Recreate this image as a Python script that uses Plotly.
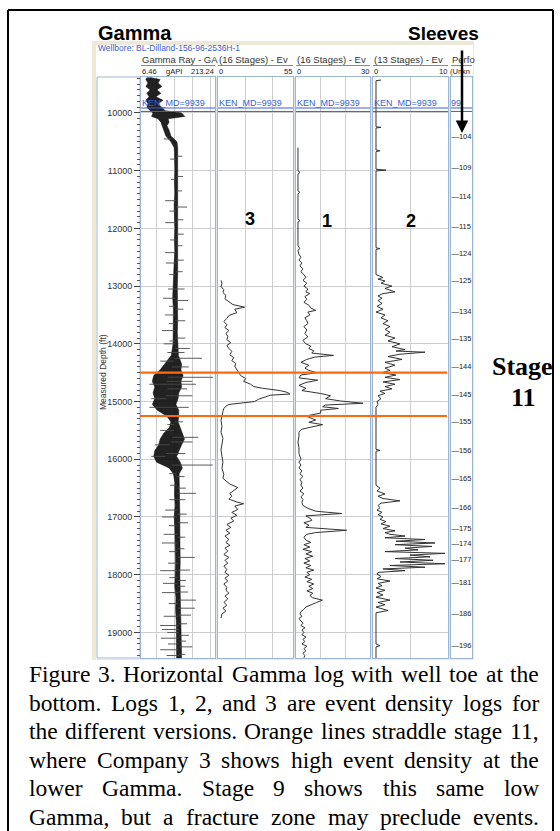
import numpy as np
import plotly.graph_objects as go

W, H = 560, 831

# ---------------- data ----------------
depth_range = [19443, 9377]          # reversed (depth increases downward)
depth_major = 1000
depth_minor = 100
gamma_range = [6.46, 213.24]
ev3_range = [0, 55]
ev1_range = [0, 30]
ev2_range = [0, 10]
sleeve_range = [0, 10]

gamma_grid = [50, 100, 150, 200]
ev3_grid = [20, 40]
ev1_grid = [10, 20]
ev2_grid = [5]

stage_top = 14500
stage_bottom = 15250
ken_md = 9939

gamma_env_depth = [9385, 9420, 9480, 9540, 9600, 9660, 9720, 9780, 9840, 9900,
                   9960, 10000, 10060, 10100, 10160, 10220, 10300, 10400, 10500, 10600,
                   10700, 10800, 10900, 11000, 11200, 11400, 11600, 11800, 12000, 12200,
                   12400, 12600, 12800, 13000, 13200, 13400, 13600, 13800, 14000, 14200,
                   14350, 14450, 14550, 14650, 14750, 14850, 14950, 15050, 15150, 15250,
                   15350, 15450, 15550, 15650, 15750, 15850, 15950, 16050, 16150, 16250,
                   16400, 16600, 16800, 17000, 17200, 17400, 17600, 17800, 18000, 18200,
                   18400, 18600, 18800, 19000, 19200, 19443]
gamma_env_min = [23, 20, 26, 20, 32, 23, 29, 20, 26, 23,
                 32, 40, 36, 54, 62, 65, 70, 76, 90, 99,
                 100, 101, 100, 101, 100, 101, 99, 101, 101, 100,
                 101, 99, 98, 96, 95, 97, 96, 95, 96, 91,
                 72, 60, 42, 38, 45, 40, 45, 38, 52, 78,
                 90, 86, 70, 60, 56, 45, 42, 50, 85, 97,
                 101, 100, 102, 99, 101, 102, 101, 103, 102, 101,
                 104, 103, 105, 105, 104, 106]
gamma_env_max = [32, 60, 54, 65, 51, 62, 48, 68, 54, 65,
                 74, 120, 129, 82, 85, 79, 85, 90, 107, 109,
                 110, 110, 111, 111, 110, 111, 110, 110, 111, 110,
                 110, 109, 109, 108, 109, 108, 109, 108, 109, 111,
                 120, 118, 124, 118, 120, 112, 110, 104, 112, 112,
                 110, 114, 122, 128, 120, 112, 106, 116, 122, 113,
                 113, 115, 114, 115, 115, 114, 115, 116, 115, 116,
                 117, 117, 118, 119, 119, 120]

gamma_spike_depth = [11630, 12100, 13250, 13900, 14080, 14250, 14580, 14700, 14900, 15100,
                     15620, 16100, 16500, 16590, 17100, 17700, 17920, 18300, 18440, 18580,
                     18700, 19050, 19250,
                     10750, 11100, 11350, 11850, 12300, 12550, 12750, 13050, 13400, 13600,
                     14150, 14400, 14650, 14780, 15350, 15700, 15900, 16300, 16700, 16950,
                     17350, 17550, 18100, 18200, 18850, 19150, 19380,
                     10450, 11520, 11900, 12420, 12600, 13210, 13500, 13770, 14000, 14300,
                     15500, 16880, 17000, 17300, 17450, 17930, 18150, 18310, 18720, 18880,
                     18950, 19100, 19300,
                     10800, 11150, 11700, 12200, 12800, 13050, 13350, 13650, 13950, 14150,
                     14500, 14700, 14950, 15100, 15400, 15750, 15950, 16250, 16450, 16700,
                     17150, 17600, 17800, 18050, 18500, 19000, 19200, 19400]
gamma_spike_val = [135, 126, 138, 130, 143, 177, 208, 160, 150, 140,
                   166, 207, 132, 160, 138, 157, 143, 138, 160, 157,
                   146, 140, 150,
                   122, 124, 121, 125, 122, 126, 123, 128, 125, 130,
                   128, 140, 150, 135, 124, 150, 130, 128, 130, 134,
                   130, 128, 132, 130, 135, 132, 130,
                   70, 74, 74, 74, 76, 68, 74, 65, 70, 60,
                   60, 74, 65, 70, 65, 60, 68, 65, 70, 60,
                   65, 62, 60,
                   88, 90, 86, 88, 86, 82, 85, 84, 86, 80,
                   40, 30, 35, 30, 80, 45, 35, 85, 88, 86,
                   84, 85, 82, 86, 84, 80, 82, 78]

ev3_depth = [12900, 12950, 13010, 13060, 13110, 13160, 13220, 13270, 13320, 13365,
             13400, 13460, 13510, 13560, 13610, 13670, 13720, 13770, 13820, 13870,
             13930, 13980, 14030, 14080, 14130, 14190, 14240, 14290, 14340, 14390,
             14440, 14500, 14550, 14600, 14650, 14700, 14740, 14770, 14810, 14840,
             14870, 14890, 14930, 14960, 15000, 15030, 15050, 15080, 15120, 15170,
             15240, 15330, 15430, 15530, 15640, 15740, 15840, 15950, 16050, 16160,
             16260, 16330, 16380, 16430, 16490, 16540, 16590, 16640, 16690, 16740,
             16770, 16810, 16870, 16920, 16970, 17020, 17070, 17130, 17180, 17230,
             17280, 17330, 17390, 17440, 17490, 17540, 17590, 17650, 17700, 17750,
             17800, 17850, 17910, 17960, 18010, 18060, 18110, 18160, 18220, 18270,
             18320, 18370, 18420, 18480, 18530, 18580, 18630, 18680, 18750]
ev3_val = [2.2, 2.9, 2.2, 4.3, 3.6, 5.8, 5.1, 8.0, 10.9, 19.5,
           12.3, 13.8, 8.0, 6.5, 4.3, 6.5, 5.1, 8.0, 5.8, 7.2,
           6.5, 9.4, 6.5, 8.0, 10.1, 8.7, 11.6, 10.1, 13.0, 12.3,
           13.8, 15.2, 16.6, 20.3, 18.8, 23.9, 26.1, 32.6, 45.6, 50.7,
           52.8, 38.4, 32.6, 29.7, 26.8, 16.6, 8.0, 5.8, 4.3, 3.6,
           2.9, 2.2, 2.9, 2.2, 3.6, 2.9, 2.2, 2.9, 3.6, 2.9,
           4.3, 3.6, 5.8, 8.7, 14.5, 11.6, 8.7, 10.1, 8.0, 13.8,
           18.8, 12.3, 14.5, 10.1, 13.8, 9.4, 11.6, 6.5, 9.4, 5.8,
           8.7, 5.1, 8.0, 5.8, 8.7, 5.1, 7.2, 4.3, 8.0, 5.1,
           7.2, 4.3, 6.5, 5.1, 8.0, 5.1, 7.2, 4.3, 6.5, 5.8,
           8.0, 5.1, 7.2, 4.3, 6.5, 3.6, 5.8, 2.9, 2.2]

ev1_depth = [10600, 11000, 11030, 11060, 11350, 11375, 11400, 11840, 11865, 11890,
             12300, 12350, 12380, 12450, 12500, 12550, 12600, 12650, 12700, 12750,
             12800, 12850, 12900, 12950, 13000, 13050, 13100, 13130, 13180, 13230,
             13280, 13330, 13380, 13420, 13450, 13500, 13550, 13600, 13650, 13700,
             13760, 13820, 13880, 13940, 14000, 14040, 14080, 14120, 14160, 14200,
             14230, 14270, 14320, 14370, 14420, 14460, 14500, 14540, 14590, 14630,
             14670, 14720, 14770, 14810, 14860, 14900, 14950, 14990, 15030, 15060,
             15090, 15120, 15150, 15200, 15250, 15285, 15320, 15360, 15400, 15440,
             15480, 15530, 15600, 15700, 15800, 15900, 16000, 16050, 16100, 16150,
             16200, 16250, 16300, 16350, 16400, 16450, 16500, 16550, 16600, 16650,
             16700, 16750, 16800, 16850, 16900, 16940, 16980, 17030, 17060, 17100,
             17140, 17180, 17230, 17270, 17300, 17350, 17400, 17440, 17480, 17520,
             17560, 17600, 17640, 17680, 17720, 17760, 17800, 17840, 17880, 17920,
             17960, 18000, 18040, 18080, 18120, 18160, 18200, 18240, 18280, 18320,
             18360, 18400, 18440, 18480, 18520, 18560, 18600, 18640, 18680, 18720,
             18760, 18800, 18840, 18880, 18920, 18960, 19000, 19040, 19080, 19120,
             19160, 19200, 19240, 19280, 19320, 19360, 19400, 19440]
ev1_val = [0.8, 0.8, 1.6, 0.8, 0.8, 1.6, 0.8, 0.8, 1.6, 0.8,
           0.8, 1.6, 0.8, 1.2, 2.0, 1.2, 2.4, 1.6, 2.8, 2.0,
           3.2, 4.0, 2.8, 4.4, 3.2, 4.8, 4.0, 5.6, 3.6, 4.4,
           3.2, 5.2, 6.0, 8.0, 4.8, 5.6, 3.6, 4.4, 4.8, 3.2,
           4.4, 3.6, 4.8, 2.8, 4.0, 6.0, 5.2, 7.2, 6.4, 15.2,
           7.6, 4.4, 2.0, 5.2, 3.6, 5.2, 8.4, 2.0, 1.2, 8.8,
           4.0, 1.2, 4.0, 2.4, 10.0, 14.0, 12.0, 18.0, 27.2, 12.0,
           10.8, 17.2, 10.0, 10.0, 4.0, 6.0, 8.0, 5.2, 10.8, 6.4,
           2.4, 1.2, 1.2, 0.8, 1.2, 1.2, 2.0, 1.2, 2.0, 1.2,
           2.4, 1.6, 2.8, 1.6, 2.4, 2.0, 2.8, 1.6, 3.2, 2.0,
           2.8, 2.4, 2.8, 4.8, 8.0, 18.5, 4.0, 6.0, 6.4, 3.2,
           5.2, 4.0, 20.5, 8.0, 4.4, 3.2, 4.0, 6.0, 3.2, 5.6,
           2.8, 6.4, 4.0, 6.8, 3.6, 5.6, 3.2, 6.0, 4.0, 7.2,
           4.4, 5.6, 3.6, 6.4, 4.4, 7.2, 5.2, 6.8, 4.4, 6.8,
           5.6, 6.8, 10.7, 8.4, 6.0, 4.0, 3.2, 2.0, 1.6, 2.4,
           1.2, 2.0, 2.8, 2.0, 3.6, 2.4, 3.2, 2.4, 4.0, 2.8,
           3.6, 2.4, 4.4, 3.2, 4.0, 2.8, 3.6, 3.2]

ev2_depth = [9430, 9440, 10240, 10250, 10260, 10640, 10655, 10670, 10975, 10990,
             11005, 12335, 12350, 12365, 12800, 12850, 12880, 12910, 12950, 13000,
             13040, 13100, 13130, 13170, 13210, 13250, 13300, 13350, 13400, 13450,
             13500, 13550, 13600, 13650, 13700, 13750, 13800, 13850, 13900, 13950,
             14000, 14050, 14100, 14125, 14145, 14180, 14220, 14270, 14320, 14370,
             14420, 14460, 14500, 14540, 14580, 14620, 14660, 14700, 14740, 14780,
             14820, 14860, 14900, 14950, 15000, 15050, 15100, 15830, 15845, 15860,
             16450, 16500, 16550, 16600, 16640, 16680, 16720, 16760, 16800, 16840,
             16880, 16920, 16960, 17000, 17040, 17080, 17120, 17160, 17200, 17240,
             17270, 17300, 17330, 17360, 17390, 17420, 17450, 17480, 17510, 17540,
             17570, 17600, 17630, 17660, 17690, 17720, 17750, 17780, 17810, 17840,
             17870, 17900, 17930, 17960, 17990, 18030, 18070, 18110, 18150, 18190,
             18230, 18270, 18310, 18350, 18390, 18440, 18480, 18520, 18560, 18620,
             18660, 19200, 19230, 19250, 19443]
ev2_val = [1.07, 0.4, 0.4, 1.07, 0.4, 0.4, 0.93, 0.4, 0.4, 1.73,
           0.4, 0.4, 0.93, 0.4, 0.4, 1.33, 0.67, 1.6, 1.07, 2.53,
           1.6, 2.93, 1.33, 0.67, 1.2, 0.67, 1.2, 0.53, 1.33, 0.4,
           1.6, 1.07, 2.0, 1.33, 2.27, 1.6, 2.27, 1.6, 2.93, 2.0,
           3.6, 2.53, 4.27, 3.07, 6.93, 3.6, 2.0, 3.87, 1.6, 2.93,
           1.6, 2.27, 1.2, 3.07, 1.6, 3.6, 1.33, 2.93, 1.6, 2.53,
           0.93, 1.6, 0.67, 1.07, 0.53, 0.67, 0.4, 0.4, 0.93, 0.4,
           0.4, 0.93, 0.53, 1.6, 0.67, 1.33, 3.6, 1.07, 0.67, 0.93,
           0.53, 1.2, 0.67, 1.33, 0.93, 1.73, 1.07, 2.27, 1.33, 2.93,
           1.6, 2.27, 4.27, 1.6, 6.93, 3.07, 8.27, 2.93, 7.87, 4.27,
           6.0, 1.6, 9.6, 4.93, 7.6, 2.93, 8.0, 3.6, 9.6, 2.27,
           6.93, 1.33, 4.27, 0.67, 0.53, 1.07, 0.53, 2.27, 0.67, 1.2,
           0.4, 1.6, 0.53, 1.33, 0.4, 2.27, 0.67, 1.6, 0.4, 2.0,
           0.4, 0.4, 0.93, 0.4, 0.4]

sleeve_depth = [10424, 10960, 11450, 11986, 12453, 12920, 13451, 13924, 14408, 14893,
                15363, 15865, 16350, 16844, 17208, 17467, 17744, 18142, 18678, 19232]
sleeve_label = ["104", "109", "114", "115", "124", "125", "134", "135", "144", "145",
                "155", "156", "165", "166", "175", "174", "177", "181", "186", "196"]

caption_lines = [
    "Figure 3. Horizontal Gamma log with well toe at the",
    "bottom. Logs 1, 2, and 3 are event density logs for",
    "the different versions. Orange lines straddle stage 11,",
    "where Company 3 shows high event density at the",
    "lower Gamma. Stage 9 shows this same low",
    "Gamma, but a fracture zone may preclude events.",
]

# ---------------- helpers ----------------
def px(x):
    return x / W

def py(y):
    return 1 - y / H

SANS = "Liberation Sans"
SERIF = "Liberation Serif"
BLUE = "#3A62D0"
TRACK_LINE = "#9DB6D6"
GRID = "#CDCDCD"
CURVE = "#333333"

fig = go.Figure()

tracks = [
    ("", gamma_range, 141, 215, gamma_grid),
    ("2", ev3_range, 218, 293, ev3_grid),
    ("3", ev1_range, 296, 370, ev1_grid),
    ("4", ev2_range, 373, 448, ev2_grid),
    ("5", sleeve_range, 451, 472, []),
]
TOP, BOT = 77, 658

layout_axes = {}
for s, rng, l, r, grid in tracks:
    layout_axes["xaxis" + s] = dict(
        domain=[px(l), px(r)], range=rng, anchor="y" + s,
        showgrid=True, tickvals=grid, gridcolor=GRID, gridwidth=1,
        showticklabels=False, ticks="", zeroline=False,
        showline=True, mirror=True, linecolor=TRACK_LINE, linewidth=1,
        fixedrange=True,
    )
    ya = dict(
        domain=[py(BOT), py(TOP)], range=depth_range, anchor="x" + s,
        showgrid=(s != "5"), dtick=depth_major, tick0=0, gridcolor=GRID, gridwidth=1,
        zeroline=False, showline=True, mirror=True, linecolor=TRACK_LINE, linewidth=1,
        fixedrange=True,
    )
    if s == "":
        ya.update(
            showticklabels=True, ticks="outside", ticklen=6, tickcolor="#444", tickwidth=1,
            tickfont=dict(family=SANS, size=9, color="#333"), tickformat="d",
            minor=dict(dtick=depth_minor, tick0=0, ticks="outside", ticklen=3,
                       tickcolor="#555", tickwidth=1, showgrid=False),
        )
    else:
        ya.update(showticklabels=False, ticks="", matches="y")
    layout_axes["yaxis" + s] = ya

# gamma band (envelope) + spikes
band_x = gamma_env_min + gamma_env_max[::-1]
band_y = gamma_env_depth + gamma_env_depth[::-1]
fig.add_trace(go.Scatter(x=band_x, y=band_y, xaxis="x", yaxis="y", mode="lines",
                         fill="toself", fillcolor="rgba(15,15,15,0.92)",
                         line=dict(color="#111111", width=0.5),
                         hoverinfo="skip", showlegend=False))
center = (np.array(gamma_env_min) + np.array(gamma_env_max)) / 2.0
sx, sy = [], []
for d, v in zip(gamma_spike_depth, gamma_spike_val):
    c = float(np.interp(d, gamma_env_depth, center))
    sx += [c, v, None]
    sy += [d, d, None]
fig.add_trace(go.Scatter(x=sx, y=sy, xaxis="x", yaxis="y", mode="lines",
                         line=dict(color="#4a4a4a", width=0.9),
                         hoverinfo="skip", showlegend=False))

# event density curves
for xs, ys, s in [(ev3_val, ev3_depth, "2"), (ev1_val, ev1_depth, "3"), (ev2_val, ev2_depth, "4")]:
    fig.add_trace(go.Scatter(x=xs, y=ys, xaxis="x" + s, yaxis="y" + s, mode="lines",
                             line=dict(color=CURVE, width=1),
                             hoverinfo="skip", showlegend=False))

# sleeves
fig.add_trace(go.Scatter(x=[0.2] * len(sleeve_depth), y=sleeve_depth, xaxis="x5", yaxis="y5",
                         mode="text", text=["\u2014" + t for t in sleeve_label],
                         textposition="middle right",
                         textfont=dict(family=SANS, size=7.5, color="#222"),
                         cliponaxis=True, hoverinfo="skip", showlegend=False))

shapes = []
for x0, y0, x1, y1 in [(8, 10, 8, 831), (8, 10, 553, 10), (553, 10, 553, 831)]:
    shapes.append(dict(type="line", xref="paper", yref="paper", x0=px(x0), y0=py(y0),
                       x1=px(x1), y1=py(y1), line=dict(color="black", width=2)))
shapes.append(dict(type="rect", xref="paper", yref="paper", x0=px(92), x1=px(474),
                   y0=py(660), y1=py(41), fillcolor="#ECE9D8", line=dict(width=0), layer="below"))
shapes.append(dict(type="rect", xref="paper", yref="paper", x0=px(96), x1=px(473),
                   y0=py(659), y1=py(45), fillcolor="#FFFFFF", line=dict(width=0), layer="below"))
for a, b in [(215, 218), (293, 296), (370, 373), (448, 451)]:
    shapes.append(dict(type="rect", xref="paper", yref="paper", x0=px(a), x1=px(b),
                       y0=py(BOT), y1=py(TOP), fillcolor="#DDE5EF", line=dict(width=0), layer="below"))
shapes.append(dict(type="rect", xref="paper", yref="paper", x0=px(97), x1=px(140),
                   y0=py(BOT), y1=py(TOP), fillcolor="white",
                   line=dict(color=TRACK_LINE, width=1), layer="below"))
for s, rng, l, r, grid in tracks:
    shapes.append(dict(type="line", xref="paper", yref="paper", x0=px(l), x1=px(r),
                       y0=py(65.5), y1=py(65.5), line=dict(color="#8A8A8A", width=1)))
for s, rng, l, r, grid in tracks:
    for off in (-25, 35):
        shapes.append(dict(type="line", xref="x" + s + " domain", x0=0, x1=1,
                           yref="y" + s, y0=ken_md + off, y1=ken_md + off,
                           line=dict(color=BLUE, width=1)))
for d in (stage_top, stage_bottom):
    shapes.append(dict(type="line", xref="paper", x0=px(140), x1=px(447),
                       yref="y", y0=d, y1=d, line=dict(color="#FF6A10", width=2.2)))

ann = []

def text(t, x, y, size, color="#000", xa="left", ya="middle", family=SANS, angle=0):
    ann.append(dict(text=t, x=px(x), y=py(y), xref="paper", yref="paper",
                    xanchor=xa, yanchor=ya, showarrow=False, textangle=angle,
                    borderpad=0, borderwidth=0,
                    font=dict(family=family, size=size, color=color)))

text("<b>Gamma</b>", 98, 33, 20)
text("<b>Sleeves</b>", 479, 34, 19, xa="right")
text("Wellbore: BL-Dilland-156-96-2536H-1", 98, 47.5, 8.5, color=BLUE)

headers = ["Gamma Ray - GA", "(16 Stages) - Ev", "(16 Stages) - Ev", "(13 Stages) - Ev", "Perfo"]
for (s, rng, l, r, grid), h in zip(tracks, headers):
    text(h, l + 1, 59, 9.5, color="#333")

text(f"{gamma_range[0]:g}", 142, 71, 7.5, color="#222")
text("gAPI", 174, 71, 7.5, color="#222", xa="center")
text(f"{gamma_range[1]:g}", 214, 71, 7.5, color="#222", xa="right")
for (s, rng, l, r, grid) in tracks[1:4]:
    text(f"{rng[0]:g}", l + 1, 71, 7.5, color="#222")
    text(f"{rng[1]:g}", r - 1, 71, 7.5, color="#222", xa="right")
text("(Unkn", 450, 71, 7.5, color="#222")

ken_y = 112.2 + (ken_md - 10000) * 0.0578
for (s, rng, l, r, grid) in tracks[:4]:
    text("KEN_MD=9939", l + 1, ken_y - 6, 9, color=BLUE)
text("99", 451, ken_y - 6, 9, color=BLUE)

text("Measured Depth (ft)", 103, 372, 8.5, color="#333", xa="center", angle=-90)

text("<b>3</b>", 250, 219, 18, xa="center")
text("<b>1</b>", 327, 221, 18, xa="center")
text("<b>2</b>", 411, 221, 18, xa="center")

text("<b>Stage</b>", 522, 366, 26, family=SERIF, xa="center")
text("<b>11</b>", 523, 397, 26, family=SERIF, xa="center")

ann.append(dict(x=px(462), y=py(133), xref="paper", yref="paper", text="",
                showarrow=True, ax=0, ay=-84, axref="pixel", ayref="pixel",
                arrowhead=2, arrowsize=1, arrowwidth=2.5, arrowcolor="black"))

TIMES = {' ': 250, '.': 250, ',': 250, '0': 500, '1': 500, '2': 500, '3': 500, '4': 500,
         '5': 500, '6': 500, '7': 500, '8': 500, '9': 500,
         'a': 444, 'b': 500, 'c': 444, 'd': 500, 'e': 444, 'f': 333, 'g': 500, 'h': 500,
         'i': 278, 'j': 278, 'k': 500, 'l': 278, 'm': 778, 'n': 500, 'o': 500, 'p': 500,
         'q': 500, 'r': 333, 's': 389, 't': 278, 'u': 500, 'v': 500, 'w': 722, 'x': 500,
         'y': 500, 'z': 444,
         'A': 722, 'B': 667, 'C': 667, 'D': 722, 'E': 611, 'F': 556, 'G': 722, 'H': 722,
         'I': 333, 'J': 389, 'K': 722, 'L': 611, 'M': 889, 'N': 722, 'O': 722, 'P': 556,
         'Q': 722, 'R': 667, 'S': 556, 'T': 611, 'U': 722, 'V': 722, 'W': 944, 'X': 722,
         'Y': 722, 'Z': 611}
CAP_FS = 23.5
CAP_X0, CAP_X1 = 29, 539
CAP_Y0, CAP_DY = 674, 28.6
for i, line in enumerate(caption_lines):
    words = line.split()
    widths = [sum(TIMES.get(c, 500) for c in w) * CAP_FS / 1000 for w in words]
    gap = (CAP_X1 - CAP_X0 - sum(widths)) / (len(words) - 1)
    x = CAP_X0
    for w, wd in zip(words, widths):
        text(w, x, CAP_Y0 + i * CAP_DY, CAP_FS, family=SERIF)
        x += wd + gap

fig.update_layout(
    width=W, height=H, margin=dict(l=0, r=0, t=0, b=0),
    paper_bgcolor="white", plot_bgcolor="white",
    showlegend=False, shapes=shapes, annotations=ann, **layout_axes,
)

fig.write_html("out.html",
               config={"displayModeBar": False, "staticPlot": True},
               post_script="document.body.style.margin='0';document.body.style.padding='0';"
                           "document.body.style.overflow='hidden';")
